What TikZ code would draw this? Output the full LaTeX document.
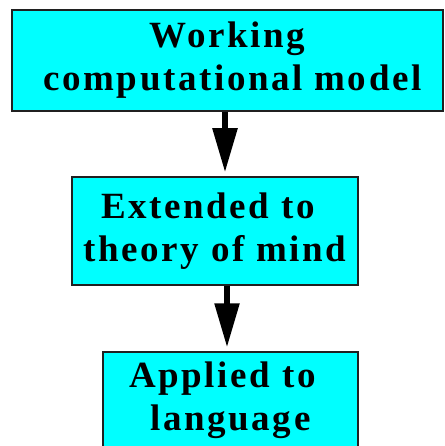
\documentclass[tikz,border=0pt]{standalone}
\usepackage{fontspec}
\setmainfont{Liberation Serif}
\usetikzlibrary{arrows.meta}
\definecolor{boxcyan}{HTML}{00FFFF}
\definecolor{boxedge}{HTML}{202020}
\tikzset{
  stepbox/.style={draw=boxedge, line width=1.5pt, fill=boxcyan, inner sep=0pt,
    align=center, font=\fontsize{37}{43}\selectfont\bfseries\addfontfeature{LetterSpace=7}},
  flow/.style={line width=5.5pt, -{Triangle[length=44pt, width=24pt]}, shorten >=4pt}
}
\begin{document}
\begin{tikzpicture}[x=1pt, y=-1pt]
\useasboundingbox (0,0) rectangle (444,446);
\clip (0,0) rectangle (444,446);
\node[stepbox, minimum width=431pt, minimum height=101pt] (b1) at (227.5,60.5) {Working\\\hspace*{10pt}computational model};
\node[stepbox, minimum width=286pt, minimum height=108pt] (b2) at (215,231) {Extended to\hspace*{14pt}\\theory of mind};
\node[stepbox, minimum width=255pt, minimum height=97pt] (b3) at (230.5,400.5) {Applied to\hspace*{16pt}\\language};
\coordinate (a1) at (225,0);
\coordinate (a2) at (227,0);
\draw[flow] (b1.south -| a1) -- (b2.north -| a1);
\draw[flow] (b2.south -| a2) -- (b3.north -| a2);
\end{tikzpicture}
\end{document}
